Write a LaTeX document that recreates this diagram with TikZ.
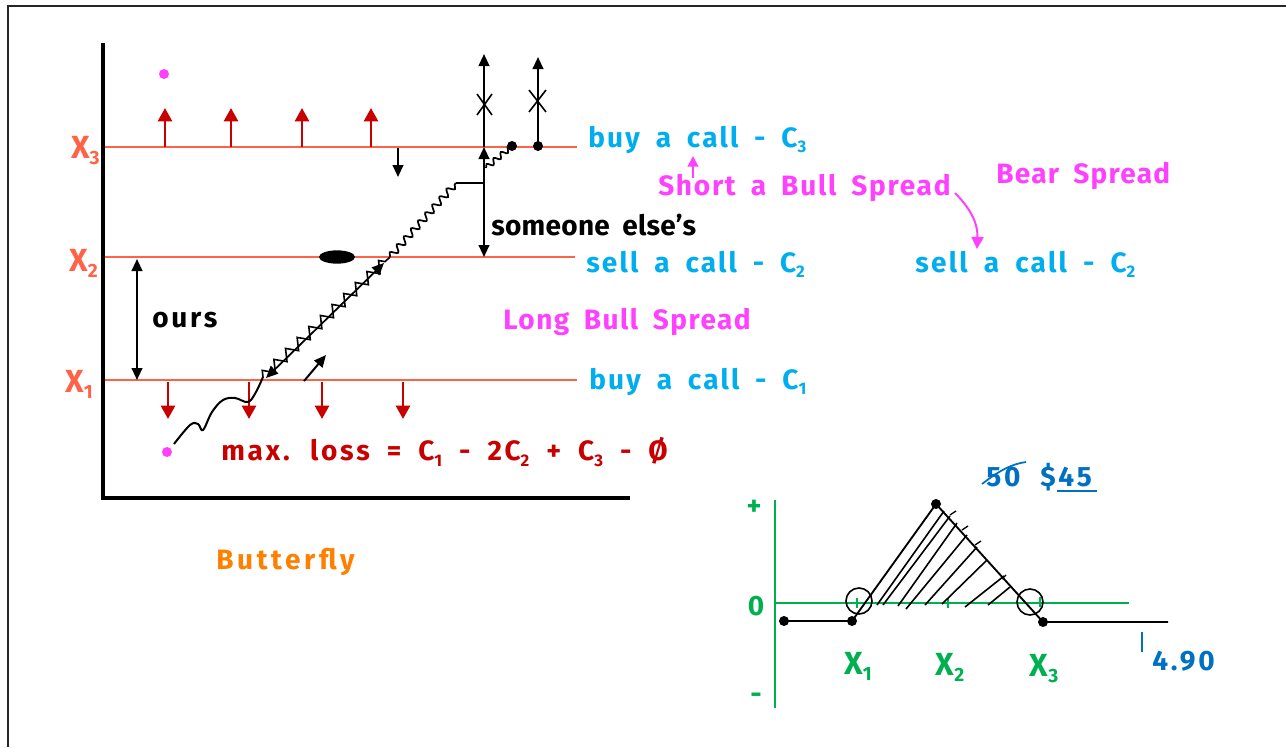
\documentclass[tikz,border=0pt]{standalone}
\usepackage{fontspec}
\setmainfont{Fira Sans}[LetterSpace=10, WordSpace=1.8]
\usetikzlibrary{arrows.meta,decorations.pathmorphing,shapes.geometric}
\definecolor{xred}{RGB}{255,99,71}
\definecolor{dred}{RGB}{200,0,0}
\definecolor{cy}{RGB}{0,174,239}
\definecolor{mag}{RGB}{255,64,255}
\definecolor{org}{RGB}{255,128,0}
\definecolor{grn}{RGB}{0,176,80}
\definecolor{blu}{RGB}{0,112,192}
\newcommand\lo[1]{\raisebox{-0.35ex}{\scalebox{0.6}{#1}}}
\begin{document}
\begin{tikzpicture}[x=0.75pt,y=-0.75pt,
  txt/.style={font=\fontsize{21}{24}\selectfont\bfseries, inner sep=0pt},
  xl/.style={font=\fontsize{24}{26}\selectfont\bfseries\addfontfeature{LetterSpace=0}, inner sep=0pt},
  ls/.style={font=\fontsize{21}{24}\selectfont\bfseries\addfontfeature{LetterSpace=#1}, inner sep=0pt},
  level/.style={xred, line width=2.2pt},
  axisl/.style={black, line width=2.3pt},
  redarr/.style={dred, line width=1.9pt, -{Triangle[length=10pt,width=10.5pt]}},
  blkarr/.style={black, line width=1.5pt, -{Triangle[length=9pt,width=8pt]}},
  dblarr/.style={black, line width=1.5pt, {Triangle[length=9pt,width=8pt]}-{Triangle[length=9pt,width=8pt]}},
  thin/.style={black, line width=1.2pt},
  dot/.style={circle, fill=black, inner sep=0pt, minimum size=7.5pt},
  mdot/.style={circle, fill=mag, inner sep=0pt, minimum size=7.5pt},
  payoff/.style={black, line width=1.4pt},
  gax/.style={grn, line width=1.6pt}]
\useasboundingbox (0,0) rectangle (1286,747);
% frame
\draw[black!85, line width=1.5pt] (8,747) -- (8,6) -- (1286,6);

% axes of left plot
\coordinate (ytop) at (103,43);
\coordinate (org) at (103,498);
\coordinate (xend) at (630,498);
\draw[axisl] (ytop) -- (org) -- (xend);

% strike levels
\coordinate (l3a) at (105,147); \coordinate (l3b) at (577,147);
\coordinate (l2a) at (105,257); \coordinate (l2b) at (575,257);
\coordinate (l1a) at (105,380); \coordinate (l1b) at (577,380);
\draw[level] (l3a) -- (l3b);
\draw[level] (l2a) -- (l2b);
\draw[level] (l1a) -- (l1b);
\node[xl, xred, anchor=east] (x3) at (100,151) {X\lo{3}};
\node[xl, xred, anchor=east] (x2) at (98,263) {X\lo{2}};
\node[xl, xred, anchor=east] (x1) at (93,384) {X\lo{1}};

% magenta dots
\node[mdot] (m1) at (164,74) {};
\node[mdot] (m2) at (167,452) {};

% red up arrows
\foreach \xx [count=\i] in {165,231,302,371}{
  \coordinate (ua\i) at (\xx,147); \coordinate (ub\i) at (\xx,108);
  \draw[redarr] (ua\i) -- (ub\i);}
% red down arrows
\foreach \xx [count=\i] in {168,249,322,403}{
  \coordinate (da\i) at (\xx,382); \coordinate (db\i) at (\xx,419);
  \draw[redarr] (da\i) -- (db\i);}

% small black down arrow
\coordinate (sa) at (398,148); \coordinate (sb) at (398,177);
\draw[blkarr] (sa) -- (sb);

% verticals above X3
\coordinate (v1a) at (484,147); \coordinate (v1b) at (484,54);
\draw[blkarr] (v1a) -- (v1b);
\draw[thin] (477,94) -- (492,115) (492,94) -- (477,115);
\node[dot] (d2) at (538,146) {};
\coordinate (v2b) at (538,57);
\draw[blkarr] (d2.center) -- (v2b);
\draw[thin] (529,90) -- (546,112) (546,90) -- (529,112);
\node[dot] (d1) at (512,146) {};

% someone else's
\coordinate (se1) at (484,147); \coordinate (se2) at (484,257);
\draw[dblarr] (se1) -- (se2);
\node[ls=1, black, anchor=west] (someone) at (491,225) {someone else’s};

% ours
\coordinate (o1) at (137,259); \coordinate (o2) at (137,380);
\draw[dblarr] (o1) -- (o2);
\node[txt, black, anchor=west] (ours) at (152,320) {ours};

% ellipse
\node[ellipse, fill=black, minimum width=27pt, minimum height=10pt, inner sep=0pt] (ell) at (337,257) {};

% squiggles
\draw[black, line width=1.5pt] plot[smooth, tension=0.6] coordinates {(174,444) (190,425) (198,424) (203,430) (212,412) (223,400) (235,398) (248,402) (256,392) (263,377)};
\coordinate (z1) at (263,377); \coordinate (z2) at (390,257);
\draw[black, line width=1.2pt, decorate, decoration={zigzag, segment length=12pt, amplitude=4pt}] (z1) -- (z2);
\coordinate (da) at (266,378); \coordinate (db) at (384,263);
\draw[dblarr, line width=1.3pt] (da) -- (db);
\coordinate (w1) at (390,257); \coordinate (w2) at (456,183); \coordinate (w3) at (484,183);
\draw[black, line width=1.3pt, decorate, decoration={snake, segment length=8pt, amplitude=2.5pt}] (w1) -- (w2);
\draw[black, line width=1.3pt] (w2) -- (w3);
\coordinate (q1) at (486,168);
\draw[black, line width=1.3pt, decorate, decoration={snake, segment length=7pt, amplitude=2pt}] (q1) -- (d1.center);

% small arrow
\coordinate (ka) at (304,381); \coordinate (kb) at (326,355);
\draw[blkarr] (ka) -- (kb);

% right-hand labels
\node[ls=7.8, cy, anchor=west] (buy3) at (588,140) {buy a call - C\lo{3}};
\node[ls=7.8, cy, anchor=west] (sell2) at (586,264) {sell a call - C\lo{2}};
\node[ls=7.8, cy, anchor=west] (buy1) at (589,382) {buy a call - C\lo{1}};
\node[ls=6.2, mag, anchor=west] (short) at (658,188) {Short a Bull Spread};
\node[ls=4.6, mag, anchor=west] (bear) at (996,176) {Bear Spread};
\node[ls=8.2, cy, anchor=west] (sell2b) at (915,264) {sell a call - C\lo{2}};
\node[ls=5.3, mag, anchor=west] (long) at (503,322) {Long Bull Spread};
\coordinate (sh1) at (693,178); \coordinate (sh2) at (693,156);
\draw[mag, line width=1.5pt, -{Triangle[length=8pt,width=8pt]}] (sh1) -- (sh2);
\coordinate (ca) at (955,193); \coordinate (cb) at (977,249);
\draw[mag, line width=1.5pt, -{Triangle[length=9pt,width=9pt]}] (ca) .. controls (972,210) and (978,225) .. (cb);

\node[txt, dred, anchor=west] (loss) at (221,452) {max. loss = C\lo{1} - 2C\lo{2} + C\lo{3} - Ø};
\node[ls=12.9, org, anchor=west] (bfly) at (216,562) {Butterfly};

% payoff diagram
\coordinate (gy1) at (775,500); \coordinate (gy2) at (775,708);
\coordinate (gx1) at (775,603); \coordinate (gx2) at (1129,603);
\draw[gax] (gy1) -- (gy2);
\draw[gax] (gx1) -- (gx2);
\draw[gax, line width=1.2pt] (857,598) -- (857,608) (948,598) -- (948,608) (1040,597) -- (1040,607);
\node[txt, grn] (plus) at (754,508) {+};
\node[txt, grn] (zero) at (756,606) {0};
\node[txt, grn] (minus) at (756,698) {-};
\node[xl, grn] (gx1l) at (858,666) {X\lo{1}};
\node[xl, grn] (gx2l) at (950,667) {X\lo{2}};
\node[xl, grn] (gx3l) at (1044,669) {X\lo{3}};

\node[dot] (p0) at (784,621) {};
\node[dot] (p1) at (852,621) {};
\node[dot] (p2) at (936,504) {};
\node[dot] (p3) at (1043,622) {};
\coordinate (p4) at (1168,622);
\draw[payoff] (p0.center) -- (p1.center) -- (p2.center) -- (p3.center) -- (p4);
% hatching
\draw[thin] (877,605) -- (944,511)
  (883,605) -- (950,516)
  (898,606) -- (957,523)
  (906,609) -- (967,535)
  (925,605) -- (977,547)
  (942,604) -- (987,560)
  (965,607) -- (1004,576)
  (988,605) -- (1010,587);
\draw[thin, line width=1pt] (950,515) -- (956,511) (962,530) -- (968,526) (975,545) -- (981,541) (1002,579) -- (1006,575);
\node[circle, draw=black, line width=1.2pt, minimum size=19.5pt, inner sep=0pt] (c1) at (859,601) {};
\node[circle, draw=black, line width=1.2pt, minimum size=19.5pt, inner sep=0pt] (c2) at (1030,602) {};

\node[txt, blu, anchor=west] (fifty) at (986,477) {50};
\draw[blu, line width=1.3pt] (982,484) .. controls (1000,470) and (1012,464) .. (1026,462);
\node[txt, blu, anchor=west] (ff) at (1040,477) {\$45};
\draw[blu, line width=1.2pt] (1057,491) -- (1097,491);
\coordinate (t1) at (1142,632); \coordinate (t2) at (1142,652);
\draw[blu, line width=1.3pt] (t1) -- (t2);
\node[txt, blu, anchor=west] (four) at (1152,661) {4.90};
\end{tikzpicture}
\end{document}
